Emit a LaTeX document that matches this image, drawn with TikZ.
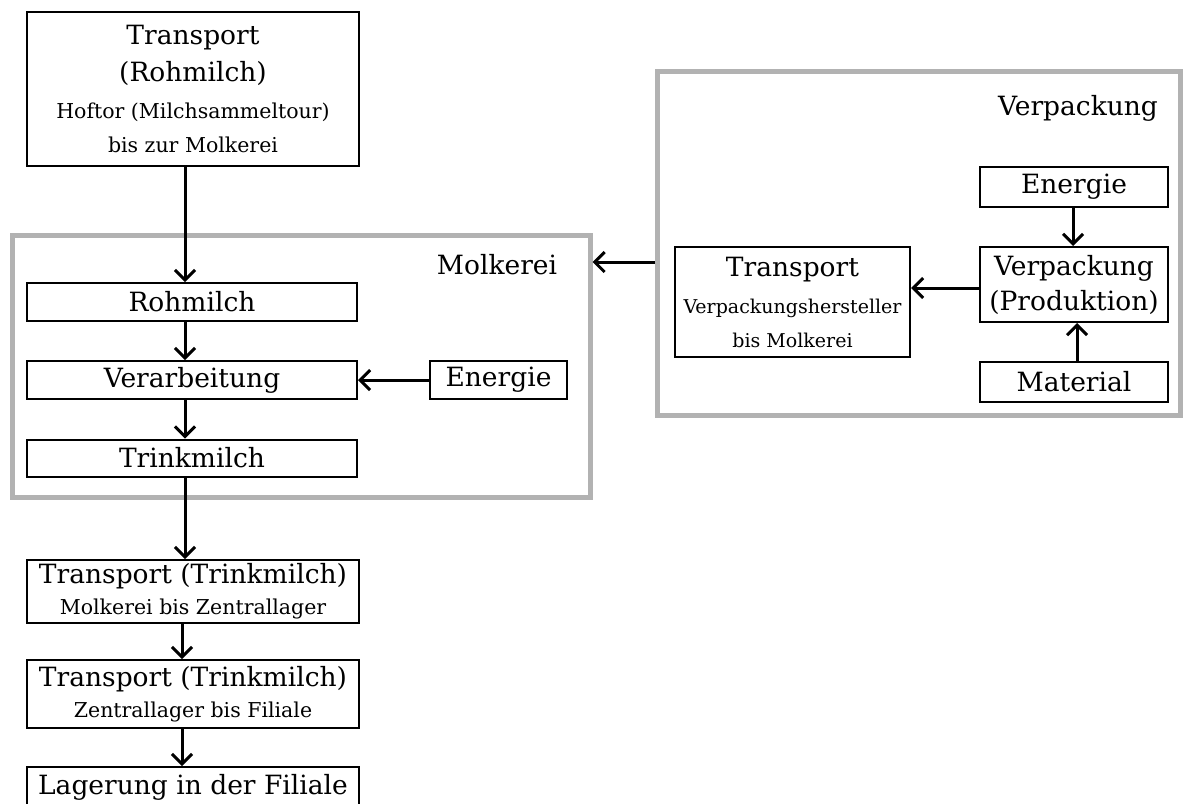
\documentclass[tikz,border=0pt]{standalone}
\usepackage{fontspec}
\setmainfont{DejaVu Serif}
\usetikzlibrary{arrows.meta}
\definecolor{framegray}{RGB}{178,178,178}
\newcommand{\bigfont}{\fontsize{26.5}{37}\selectfont}
\newcommand{\smallfont}{\fontsize{20.5}{34}\selectfont}
\newcommand{\tinyfont}{\fontsize{19}{34}\selectfont}
\tikzset{
  flow/.style={
    line width=3pt,
    -{Straight Barb[length=10pt,width=20pt,line width=3pt]}
  },
  box/.style={draw, line width=2pt, inner sep=0pt, align=center, font=\bigfont},
  group-frame/.style={draw=framegray, line width=5pt, inner sep=0pt},
  group-label/.style={font=\bigfont, inner sep=0pt}
}

\begin{document}
\begin{tikzpicture}[x=1pt,y=-1pt]
  \useasboundingbox (0,0) rectangle (1183,803);

  % Frames
  \node[group-frame, minimum width=578, minimum height=262] (molkerei) at (301,366) {};
  \node[group-label] (molkerei-label) at (497,265) {Molkerei};
  \node[group-frame, minimum width=523, minimum height=344] (verpackung) at (918.5,243) {};
  \node[group-label] (verpackung-label) at (1078,108) {Verpackung};

  % Left column
  \node[box, minimum width=332, minimum height=154] (t-rohmilch) at (193,89)
    {Transport\\(Rohmilch)\\{\smallfont Hoftor (Milchsammeltour)}\\[-3pt]{\smallfont bis zur Molkerei}};
  \node[box, minimum width=330, minimum height=38] (rohmilch) at (192,302) {Rohmilch};
  \node[box, minimum width=330, minimum height=38] (verarbeitung) at (192,380) {Verarbeitung};
  \node[box, minimum width=137, minimum height=38] (energie-m) at (498.5,380) {Energie};
  \node[box, minimum width=330, minimum height=37] (trinkmilch) at (192,458) {Trinkmilch};
  \node[box, minimum width=332, minimum height=63] (t-zentral) at (193,591.5)
    {Transport (Trinkmilch)\\[-6pt]{\smallfont Molkerei bis Zentrallager}};
  \node[box, minimum width=332, minimum height=68] (t-filiale) at (193,694)
    {Transport (Trinkmilch)\\[-6pt]{\smallfont Zentrallager bis Filiale}};
  \node[box, minimum width=332, minimum height=40] (lagerung) at (193,787) {Lagerung in der Filiale};

  % Right column
  \node[box, minimum width=235, minimum height=110] (t-verpackung) at (792.5,302)
    {Transport\\{\tinyfont Verpackungshersteller}\\[-3pt]{\tinyfont bis Molkerei}};
  \node[box, minimum width=188, minimum height=40] (energie-v) at (1074,187) {Energie};
  \node[box, minimum width=188, minimum height=75] (produktion) at (1074,284.5)
    {Verpackung\\[-2pt](Produktion)};
  \node[box, minimum width=188, minimum height=40] (material) at (1074,382) {Material};

  % Arrows
  \draw[flow] ([xshift=-8pt]t-rohmilch.south) -- ([xshift=-7pt]rohmilch.north);
  \draw[flow] ([xshift=-7pt]rohmilch.south) -- ([xshift=-7pt]verarbeitung.north);
  \draw[flow] ([xshift=-7pt]verarbeitung.south) -- ([xshift=-7pt]trinkmilch.north);
  \draw[flow] ([xshift=-7pt]trinkmilch.south) -- ([xshift=-8pt]t-zentral.north);
  \draw[flow] ([xshift=-11pt]t-zentral.south) -- ([xshift=-11pt]t-filiale.north);
  \draw[flow] ([xshift=-11pt]t-filiale.south) -- ([xshift=-11pt]lagerung.north);
  \draw[flow] (energie-m.west) -- (verarbeitung.east);
  \draw[flow] ([yshift=-19pt]verpackung.west) -- ([yshift=-19pt]verpackung.west -| molkerei.east);
  \draw[flow] ([yshift=-3.5pt]produktion.west) -- ([yshift=-3.5pt]produktion.west -| t-verpackung.east);
  \draw[flow] ([xshift=-1pt]energie-v.south) -- ([xshift=-1pt]produktion.north);
  \draw[flow] ([xshift=3pt]material.north) -- ([xshift=3pt]produktion.south);
\end{tikzpicture}
\end{document}
